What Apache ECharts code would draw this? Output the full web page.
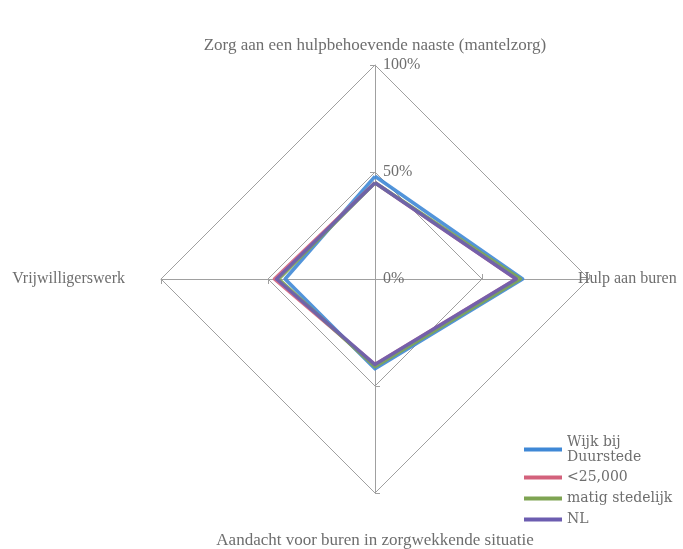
<!DOCTYPE html>
<html>
<head>
<meta charset="utf-8">
<script src="https://cdn.jsdelivr.net/npm/echarts@6/dist/echarts.min.js"></script>
<style>
  html, body { margin: 0; padding: 0; background: #ffffff; }
  #chart { width: 683px; height: 549px; }
</style>
</head>
<body>
<div id="chart"></div>
<script>
// Radar axes, counter-clockwise from the top
const axisNames = [
  'Zorg aan een hulpbehoevende naaste (mantelzorg)',
  'Vrijwilligerswerk',
  'Aandacht voor buren in zorgwekkende situatie',
  'Hulp aan buren'
];
const seriesNames = ['Wijk bij Duurstede', '<25,000', 'matig stedelijk', 'NL'];
const seriesColors = ['#3f88d6', '#d3627c', '#7ea452', '#6c5db0'];

// Percentages per axis, same order as axisNames
const wijkBijDuurstede = [48, 42, 42, 69];
const kleinerDan25000 = [45, 47, 40, 66];
const matigStedelijk = [45, 45, 41, 68];
const nederland = [45, 46, 40, 66];
const seriesValues = [wijkBijDuurstede, kleinerDan25000, matigStedelijk, nederland];

const scaleMin = 0;
const scaleMax = 100;
const tickStep = 50;

const textColor = '#6e6e6e';
const gridColor = '#a0a0a0';
const serif = 'Liberation Serif';

const center = [375, 279];
const radius = 214;

const nameStyles = [
  { gap: 11, size: 17 },
  { gap: 36, size: 16 },
  { gap: 39, size: 17 },
  { gap: -11, size: 16 }
];

const mainIndicators = axisNames.map((name, i) => ({
  name: name,
  min: scaleMin,
  max: scaleMax,
  nameGap: nameStyles[i].gap,
  nameTextStyle: { fontSize: nameStyles[i].size },
  axisLabel: { show: i === 0 }
}));

const tickIndicators = axisNames.map(() => ({ name: '', min: scaleMin, max: scaleMax }));

const chart = echarts.init(document.getElementById('chart'), null, { renderer: 'canvas' });

chart.setOption({
  backgroundColor: '#ffffff',
  animation: false,
  legend: {
    orient: 'vertical',
    left: 519,
    top: 430,
    itemWidth: 38,
    itemHeight: 4,
    itemGap: 6,
    icon: 'rect',
    selectedMode: false,
    textStyle: { fontFamily: 'DejaVu Serif', fontSize: 14, color: textColor, lineHeight: 15 },
    formatter: name => name === seriesNames[0] ? 'Wijk bij\nDuurstede' : name,
    data: seriesNames.map((n, i) => i === 0
      ? { name: n, textStyle: { padding: [0, 0, -15, 0] } }
      : { name: n })
  },
  radar: [
    {
      center: center,
      radius: radius,
      startAngle: 90,
      shape: 'polygon',
      splitNumber: scaleMax / tickStep,
      indicator: mainIndicators,
      axisName: { color: textColor, fontFamily: serif },
      axisLine: { lineStyle: { color: gridColor, width: 1 } },
      splitLine: { lineStyle: { color: gridColor, width: 1 } },
      splitArea: { show: false },
      axisTick: { show: true, length: 5, lineStyle: { color: gridColor, width: 1 } },
      axisLabel: {
        show: false,
        color: textColor,
        fontFamily: serif,
        fontSize: 16,
        margin: -8,
        align: 'left',
        formatter: '{value}%'
      }
    },
    {
      // mirrored tick marks on the other side of each spoke
      center: center,
      radius: radius,
      startAngle: 90,
      shape: 'polygon',
      splitNumber: scaleMax / tickStep,
      indicator: tickIndicators,
      axisName: { show: false },
      axisLine: { show: false },
      splitLine: { show: false },
      splitArea: { show: false },
      axisLabel: { show: false },
      axisTick: { show: true, inside: true, length: 5, lineStyle: { color: gridColor, width: 1 } }
    }
  ],
  series: [{
    type: 'radar',
    radarIndex: 0,
    symbol: 'none',
    silent: true,
    data: seriesNames.map((n, i) => ({
      name: n,
      value: seriesValues[i],
      lineStyle: { color: seriesColors[i], width: 3.5, opacity: 0.9 },
      itemStyle: { color: seriesColors[i] },
      areaStyle: null
    }))
  }]
});
</script>
</body>
</html>
